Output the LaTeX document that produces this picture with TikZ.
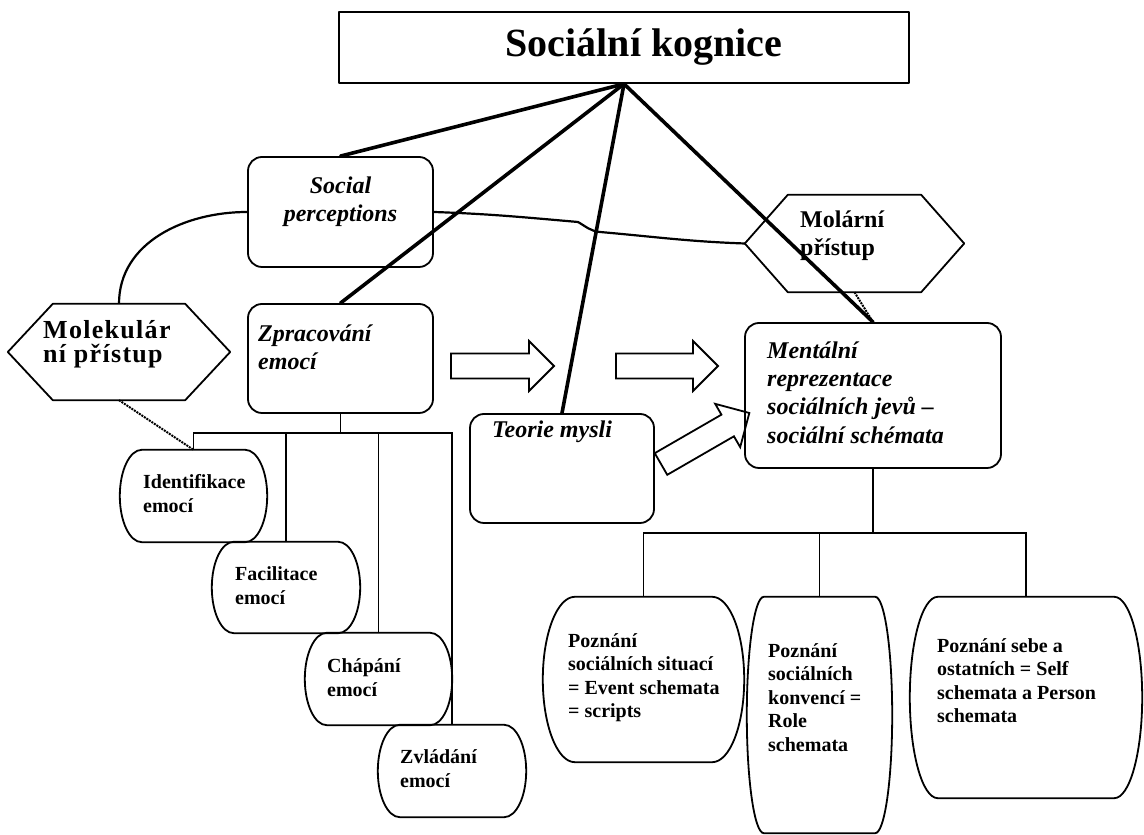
\documentclass[tikz,border=0pt]{standalone}
\usepackage{fontspec}
\setmainfont{Liberation Serif}
\newfontfamily\spacedfont[LetterSpace=5]{Liberation Serif}
\usetikzlibrary{calc,positioning}

\newcommand\txttitle{\fontsize{40}{48}\selectfont\bfseries}
\newcommand\txtital{\fontsize{24}{28}\selectfont\bfseries\itshape}
\newcommand\txtplain{\fontsize{24}{28}\selectfont\bfseries}
\newcommand\txtsmall{\fontsize{20}{24}\selectfont\bfseries}
\newcommand\txtlow{\fontsize{20}{23.6}\selectfont\bfseries}

\tikzset{
  boxline/.style={line width=1.8pt, line join=round},
  boxsize/.style 2 args={minimum width=#1, minimum height=#2},
  roundbox/.style={draw, boxline, inner sep=0pt, rounded corners=14pt},
  plainbox/.style={draw=none, inner sep=0pt},
  spoke/.style={line width=3.6pt, line cap=round},
  link/.style={line width=2.2pt},
  tree/.style={line width=1.6pt},
  dotline/.style={line width=2pt, densely dotted},
  txt/.style={inner sep=0pt, anchor=north west, align=left},
  fatarrow/.pic={
    \draw[boxline, line join=miter] (0,-12.5) -- (#1-25,-12.5) -- (#1-25,-25) -- (#1,0)
      -- (#1-25,25) -- (#1-25,12.5) -- (0,12.5) -- cycle;
  }
}

% barrel shaped box round a node
\newcommand\barrelbox[2]{%
  \draw[boxline] let \p1=(#1.north west), \p2=(#1.south east), \n1={(\y1-\y2)/2} in
    (\x1+#2,\y1) -- (\x2-#2,\y1)
    arc[start angle=90, end angle=0, x radius=#2, y radius=\n1]
    arc[start angle=0, end angle=-90, x radius=#2, y radius=\n1]
    -- (\x1+#2,\y2)
    arc[start angle=270, end angle=180, x radius=#2, y radius=\n1]
    arc[start angle=180, end angle=90, x radius=#2, y radius=\n1] -- cycle;}

% hexagon round a node
\newcommand\hexbox[2]{%
  \draw[boxline] (#1.west) -- ([xshift=#2]#1.north west) -- ([xshift=-#2]#1.north east)
    -- (#1.east) -- ([xshift=-#2]#1.south east) -- ([xshift=#2]#1.south west) -- cycle;}

\begin{document}
\begin{tikzpicture}[x=1pt, y=1pt]
\useasboundingbox (0,0) rectangle (1144,835);

% title
\node[draw, boxline, inner sep=0pt, boxsize={570pt}{71pt}] (kog) at (624,787.5) {};
\node[inner sep=0pt, anchor=base, font=\txttitle] (kogtxt) at (644,778) {Sociální kognice};
\coordinate (apex) at (kog.south);

% upper boxes
\node[roundbox, boxsize={185pt}{110pt}] (socp) at (340.5,623) {};
\node[roundbox, boxsize={185pt}{109pt}] (zprac) at (340.5,476.5) {};
\node[roundbox, boxsize={184pt}{109pt}] (teorie) at (562,366.5) {};
\node[roundbox, boxsize={256pt}{145pt}] (ment) at (873,439.5) {};
\node[plainbox, boxsize={222pt}{96pt}] (molek) at (119,483) {};
\node[plainbox, boxsize={219pt}{97pt}] (molar) at (854.5,591.5) {};
\hexbox{molek}{45pt}
\hexbox{molar}{43pt}

\node[txt, anchor=north, align=center, font=\txtital] (socptxt) at (340.5,658.5) {Social\\perceptions};
\node[txt, font=\txtital] (zpractxt) at (258,510.5) {Zpracování\\emocí};
\node[txt, anchor=base west, font=\txtital] (teorietxt) at (492,397) {Teorie mysli};
\node[txt, font=\fontsize{24}{28.3}\selectfont\bfseries\itshape] (menttxt) at (767,493.5)
  {Mentální\\reprezentace\\sociálních jevů –\\sociální schémata};
\node[txt, font=\txtplain] (molartxt) at (800,624.5) {Molární\\přístup};
\node[txt, font=\spacedfont\fontsize{26}{24}\selectfont\bfseries] (molektxt) at (43,515)
  {Molekulár\\ní přístup};

% emotion boxes
\node[plainbox, boxsize={147pt}{92pt}] (ident) at (193.5,339) {};
\node[plainbox, boxsize={148pt}{91pt}] (facil) at (286,247.5) {};
\node[plainbox, boxsize={147pt}{92pt}] (chap) at (378.5,156) {};
\node[plainbox, boxsize={148pt}{92pt}] (zvlad) at (452,64) {};
\foreach \b in {ident,facil,chap,zvlad} {\barrelbox{\b}{22pt}}

\node[txt, font=\txtsmall] (identtxt) at (143,361) {Identifikace\\emocí};
\node[txt, font=\txtsmall] (faciltxt) at (235,269) {Facilitace\\emocí};
\node[txt, font=\txtsmall] (chaptxt) at (327,177) {Chápání\\emocí};
\node[txt, font=\txtsmall] (zvladtxt) at (400,86) {Zvládání\\emocí};

% schema boxes
\node[plainbox, boxsize={201pt}{165pt}] (sit) at (643.5,155.5) {};
\node[plainbox, boxsize={145pt}{236pt}] (konv) at (819.5,120) {};
\node[plainbox, boxsize={232pt}{201pt}] (sebe) at (1026,137.5) {};
\barrelbox{sit}{32pt}
\barrelbox{konv}{17pt}
\barrelbox{sebe}{28pt}

\node[txt, font=\txtlow] (sittxt) at (568,202)
  {Poznání\\sociálních situací\\= Event schemata\\= scripts};
\node[txt, font=\txtlow] (konvtxt) at (768,192)
  {Poznání\\sociálních\\konvencí =\\Role\\schemata};
\node[txt, font=\txtlow] (sebetxt) at (937,197)
  {Poznání sebe a\\ostatních = Self\\schemata a Person\\schemata};

% spokes from the title
\foreach \t in {socp,zprac,teorie,ment} {\draw[spoke] (apex) -- (\t.north);}

% curved links and dotted links
\draw[link] (molek.north) to[out=90, in=180] (socp.west);
\draw[link] (socp.east) to[out=-2, in=175] (578,613) to[out=-30, in=175] (600,603)
  to[out=-5, in=178] (molar.west);
\draw[dotline] (molek.south) -- (ident.north);
\draw[dotline] (molar.south) -- (ment.north);

% trees
\draw[tree] (zprac.south) -- ++(0,-19) coordinate (lhub);
\foreach \b in {ident,facil,chap,zvlad} {\draw[tree] (lhub) -| (\b.north);}
\draw[tree] (ment.south) -- ++(0,-64) coordinate (rhub);
\foreach \b in {sit,konv,sebe} {\draw[tree] (rhub) -| (\b.north);}

% block arrows
\pic at (451,469) {fatarrow=103};
\pic at (616,469) {fatarrow=102};
\pic[rotate=30] at (661,371) {fatarrow=102};
\end{tikzpicture}
\end{document}
